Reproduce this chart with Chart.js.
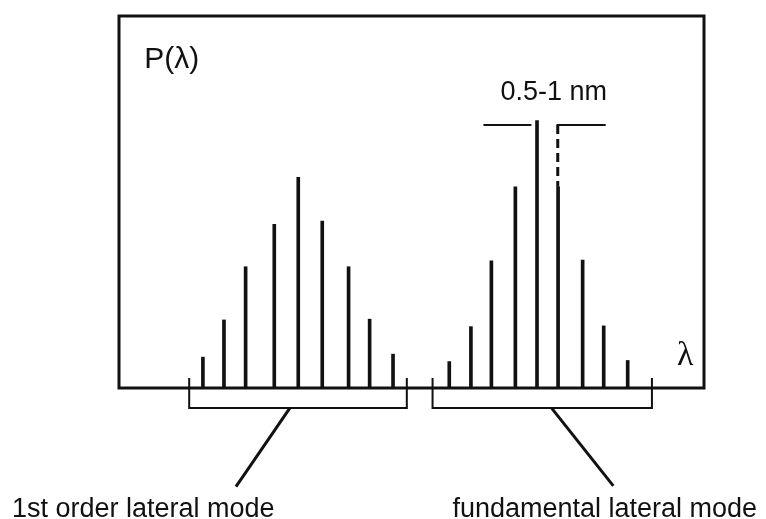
<!DOCTYPE html>
<html>
<head>
<meta charset="utf-8">
<script src="https://cdn.jsdelivr.net/npm/chart.js@4"></script>
<style>
html,body{margin:0;padding:0;background:#fff;}
#wrap{width:766px;height:519px;}
</style>
</head>
<body>
<div id="wrap"><canvas id="c" width="766" height="519"></canvas></div>
<script>
// ---- data (wavelength in arbitrary units, power in arbitrary units) ----
const firstOrderLambda   = [14.6, 18.2, 21.9, 26.8, 30.9, 35.0, 39.5, 43.1, 47.1];
const firstOrderPower    = [8.3, 18.3, 32.6, 44.0, 56.6, 44.9, 32.6, 18.5, 9.1];
const fundamentalLambda  = [56.2, 59.9, 63.4, 67.5, 71.2, 74.8, 79.0, 82.6, 86.7];
const fundamentalPower   = [7.1, 16.5, 34.2, 54.1, 71.9, 54.1, 34.4, 16.7, 7.4];
const firstOrderRange    = [12.0, 49.2];
const fundamentalRange   = [53.6, 91.1];
const spacingLambda      = [71.2, 75.0];   // mode spacing 0.5-1 nm
const spacingLevel       = 70.7;
const textLabels = {
  yTitle: 'P(λ)',
  xTitle: 'λ',
  spacing: '0.5-1 nm',
  firstOrder: '1st order lateral mode',
  fundamental: 'fundamental lateral mode'
};

const INK = '#111';
function pts(xs, ys){ return xs.map((x,i)=>({x:x, y:ys[i]})); }
function lineDs(data, extra){
  return Object.assign({type:'line', data:data, borderColor:INK, borderWidth:2,
    pointRadius:0, tension:0, fill:false, clip:false}, extra||{});
}
function bracket(r){
  return [{x:r[0],y:2.7},{x:r[0],y:-5.4},{x:r[1],y:-5.4},{x:r[1],y:2.7}];
}
function centre(r){ return (r[0]+r[1])/2; }

const datasets = [
  {type:'bar', data:pts(firstOrderLambda, firstOrderPower), backgroundColor:INK, barThickness:3, borderWidth:0},
  {type:'bar', data:pts(fundamentalLambda, fundamentalPower), backgroundColor:INK, barThickness:3, borderWidth:0},
  lineDs(bracket(firstOrderRange)),
  lineDs(bracket(fundamentalRange)),
  // leader lines to the labels
  lineDs([{x:centre(firstOrderRange)-1.4,y:-5.4},{x:20.0,y:-26.5}], {borderWidth:3}),
  lineDs([{x:centre(fundamentalRange)+1.6,y:-5.4},{x:84.5,y:-26.3}], {borderWidth:3}),
  // spacing marker
  lineDs([{x:spacingLambda[0]-8.9,y:spacingLevel},{x:spacingLambda[0]-0.7,y:spacingLevel}]),
  lineDs([{x:spacingLambda[1]-0.2,y:spacingLevel},{x:spacingLambda[1]+8.2,y:spacingLevel}]),
  lineDs([{x:spacingLambda[1],y:spacingLevel},{x:spacingLambda[1],y:fundamentalPower[5]}], {borderWidth:3, borderDash:[9,5]})
];

const decor = {
  id:'decor',
  afterDatasetsDraw(chart){
    const ctx = chart.ctx, a = chart.chartArea;
    const xs = chart.scales.x, ys = chart.scales.y;
    ctx.save();
    ctx.strokeStyle = INK; ctx.lineWidth = 3;
    ctx.strokeRect(a.left, a.top, a.right-a.left, a.bottom-a.top);
    ctx.fillStyle = INK;
    ctx.textBaseline = 'alphabetic';
    ctx.font = '30px "Liberation Sans", Arial, sans-serif';
    ctx.textAlign = 'left';
    ctx.fillText(textLabels.yTitle, xs.getPixelForValue(4.3), ys.getPixelForValue(85.9));
    ctx.font = '27px "Liberation Sans", Arial, sans-serif';
    ctx.textAlign = 'center';
    ctx.fillText(textLabels.spacing, xs.getPixelForValue(74.3), ys.getPixelForValue(77.4));
    ctx.textAlign = 'left';
    ctx.fillText(textLabels.firstOrder, xs.getPixelForValue(-18.3), ys.getPixelForValue(-34.6));
    ctx.fillText(textLabels.fundamental, xs.getPixelForValue(57.0), ys.getPixelForValue(-34.6));
    ctx.font = '34px "Liberation Serif", "DejaVu Serif", serif';
    ctx.textAlign = 'center';
    ctx.fillText(textLabels.xTitle, xs.getPixelForValue(96.8), ys.getPixelForValue(6.2));
    ctx.restore();
  }
};

new Chart(document.getElementById('c'), {
  type:'bar',
  data:{datasets:datasets},
  options:{
    responsive:false,
    animation:false,
    layout:{padding:{left:119, top:16, right:62, bottom:131}},
    plugins:{legend:{display:false}, tooltip:{enabled:false}},
    scales:{
      x:{type:'linear', min:0, max:100, offset:false, display:false},
      y:{type:'linear', min:0, max:100, display:false}
    }
  },
  plugins:[decor]
});
</script>
</body>
</html>
